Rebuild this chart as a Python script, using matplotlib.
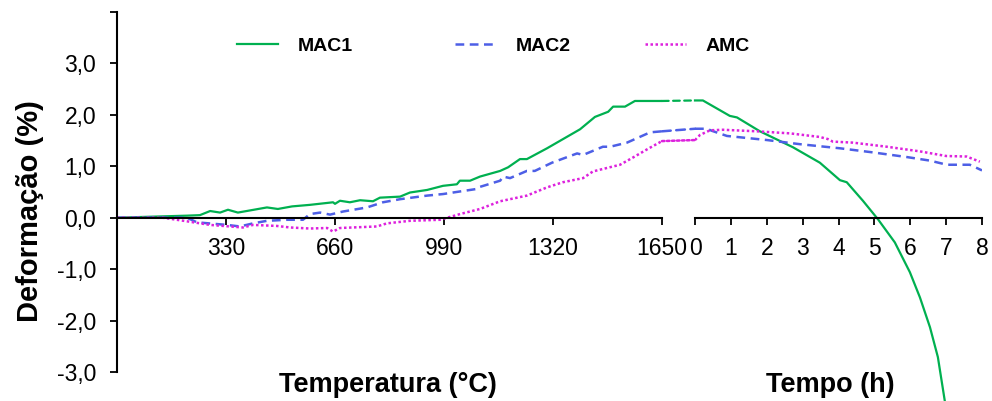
import matplotlib
matplotlib.use("Agg")
import matplotlib.pyplot as plt
from matplotlib.patches import ConnectionPatch

plt.rcParams['font.family'] = ['Liberation Sans', 'DejaVu Sans']

# --- heating stage (temperature, °C) ---
mac1_temp = [0, 212, 251, 282, 312, 336, 366, 454, 487, 530, 584, 654, 660, 675, 705, 736,
             775, 796, 857, 887, 939, 987, 1029, 1038, 1069, 1099, 1160, 1184, 1220, 1241,
             1302, 1402, 1447, 1487, 1502, 1538, 1568, 1650]
mac1_def_t = [0, 0.04, 0.05, 0.13, 0.10, 0.155, 0.10, 0.20, 0.17, 0.22, 0.25, 0.30, 0.27, 0.33,
              0.30, 0.34, 0.32, 0.39, 0.41, 0.49, 0.54, 0.62, 0.65, 0.72, 0.72, 0.80, 0.91, 0.98,
              1.14, 1.14, 1.35, 1.72, 1.96, 2.06, 2.16, 2.16, 2.27, 2.27]

mac2_temp = [0, 212, 242, 333, 372, 412, 454, 515, 563, 584, 615, 645, 684, 757, 805, 857,
             939, 987, 1038, 1090, 1099, 1160, 1169, 1190, 1241, 1265, 1317, 1393, 1411, 1471,
             1493, 1544, 1614, 1650]
mac2_def_t = [0, 0, -0.09, -0.14, -0.17, -0.11, -0.06, -0.04, -0.04, 0.07, 0.10, 0.06, 0.12,
              0.20, 0.30, 0.36, 0.43, 0.46, 0.51, 0.56, 0.60, 0.72, 0.80, 0.77, 0.91, 0.91,
              1.07, 1.25, 1.22, 1.38, 1.38, 1.46, 1.66, 1.68]

amc_temp = [0, 139, 212, 282, 381, 412, 484, 524, 584, 636, 654, 675, 787, 817, 887, 978,
            1038, 1099, 1160, 1241, 1302, 1350, 1411, 1441, 1523, 1562, 1605, 1650]
amc_def_t = [0, 0, -0.07, -0.14, -0.19, -0.14, -0.16, -0.19, -0.21, -0.20, -0.27, -0.20, -0.17,
             -0.11, -0.06, -0.04, 0.07, 0.17, 0.32, 0.43, 0.59, 0.69, 0.77, 0.90, 1.03, 1.17,
             1.33, 1.49]

# --- dwell stage (time, h) ---
mac1_time = [0, 0.22, 0.97, 1.17, 1.81, 2.73, 3.48, 4.04, 4.23, 4.68, 5.10, 5.57, 5.99, 6.27,
             6.55, 6.77, 6.96]
mac1_def_h = [2.28, 2.28, 1.98, 1.95, 1.68, 1.37, 1.07, 0.73, 0.69, 0.33, -0.03, -0.48, -1.06,
              -1.55, -2.13, -2.71, -3.55]

mac2_time = [0, 0.33, 0.47, 0.89, 2.01, 2.92, 4.04, 4.96, 5.90, 6.55, 7.02, 7.66, 8.0]
mac2_def_h = [1.73, 1.73, 1.69, 1.59, 1.51, 1.43, 1.35, 1.27, 1.18, 1.11, 1.03, 1.03, 0.92]

amc_time = [0, 0.14, 0.42, 0.78, 1.73, 2.65, 3.48, 3.70, 3.84, 4.40, 5.35, 6.27, 7.00, 7.57, 7.94]
amc_def_h = [1.51, 1.61, 1.70, 1.71, 1.68, 1.64, 1.57, 1.53, 1.48, 1.46, 1.38, 1.29, 1.20, 1.19, 1.09]

temp_ticks = [330, 660, 990, 1320, 1650]
time_ticks = [0, 1, 2, 3, 4, 5, 6, 7, 8]
y_ticks = [-3, -2, -1, 0, 1, 2, 3, 4]

green = '#00B050'
blue = '#4D5FE6'
magenta = '#DD22DD'
st_mac1 = dict(color=green, lw=1.6, linestyle='-')
st_mac2 = dict(color=blue, lw=1.8, linestyle=(0, (3.5, 2.2)))
st_amc = dict(color=magenta, lw=1.8, linestyle=(0, (1, 1)))

fig = plt.figure(figsize=(9.92, 4.01), dpi=100)
ax1 = fig.add_axes([117 / 992, 1 - 372 / 401, 545 / 992, 360 / 401])
ax2 = fig.add_axes([695 / 992, 1 - 372 / 401, 287 / 992, 360 / 401])

l1, = ax1.plot(mac1_temp, mac1_def_t, **st_mac1)
l2, = ax1.plot(mac2_temp, mac2_def_t, **st_mac2)
l3, = ax1.plot(amc_temp, amc_def_t, **st_amc)
ax2.plot(mac1_time, mac1_def_h, clip_on=False, **st_mac1)
ax2.plot(mac2_time, mac2_def_h, **st_mac2)
ax2.plot(amc_time, amc_def_h, **st_amc)

# links between the end of heating and the start of the dwell
links = [(mac1_def_t[-1], mac1_def_h[0], dict(color=green, lw=1.6, linestyle=(0, (3, 2)))),
         (mac2_def_t[-1], mac2_def_h[0], st_mac2),
         (amc_def_t[-1], amc_def_h[0], st_amc)]
for y_a, y_b, st in links:
    con = ConnectionPatch(xyA=(temp_ticks[-1], y_a), coordsA=ax1.transData,
                          xyB=(time_ticks[0], y_b), coordsB=ax2.transData,
                          color=st['color'], lw=st['lw'], linestyle=st['linestyle'])
    fig.add_artist(con)

for ax in (ax1, ax2):
    ax.set_ylim(-3, 4)
    ax.spines['top'].set_visible(False)
    ax.spines['right'].set_visible(False)
    ax.spines['bottom'].set_position(('data', 0))
    ax.spines['bottom'].set_linewidth(1.5)
    ax.set_facecolor('none')
    ax.tick_params(axis='x', direction='out', length=5, width=1.3, labelsize=16.5, pad=9)

ax1.set_xlim(0, 1650)
ax1.set_xticks(temp_ticks)
ax1.set_yticks(y_ticks)
ax1.set_yticklabels([f"{v:.1f}".replace('.', ',') if v < 4 else '' for v in y_ticks])
ax1.spines['left'].set_linewidth(1.5)
ax1.tick_params(axis='y', direction='out', length=5, width=1.3, labelsize=16.5, pad=10)

ax2.set_xlim(0, 8)
ax2.set_xticks(time_ticks)
ax2.spines['left'].set_visible(False)
ax2.set_yticks([])

fig.text(30 / 992, 1 - 211 / 401, 'Deformação (%)', rotation=90, ha='center', va='center',
         fontsize=21, fontweight='bold')
fig.text(388 / 992, 1 - 385 / 401, 'Temperatura (°C)', ha='center', va='center',
         fontsize=19.5, fontweight='bold')
fig.text(830 / 992, 1 - 385 / 401, 'Tempo (h)', ha='center', va='center',
         fontsize=19.5, fontweight='bold')

leg_kw = dict(loc='center left', frameon=False, borderpad=0, borderaxespad=0,
              handlelength=2.1, handletextpad=1.0, prop=dict(size=14, weight='bold'))
for h, name, xpos in [(l1, 'MAC1', 237), (l2, 'MAC2', 455), (l3, 'AMC', 645)]:
    fig.legend(handles=[h], labels=[name], bbox_to_anchor=(xpos / 992, 1 - 46 / 401), **leg_kw)

fig.savefig('out.png', dpi=100)
